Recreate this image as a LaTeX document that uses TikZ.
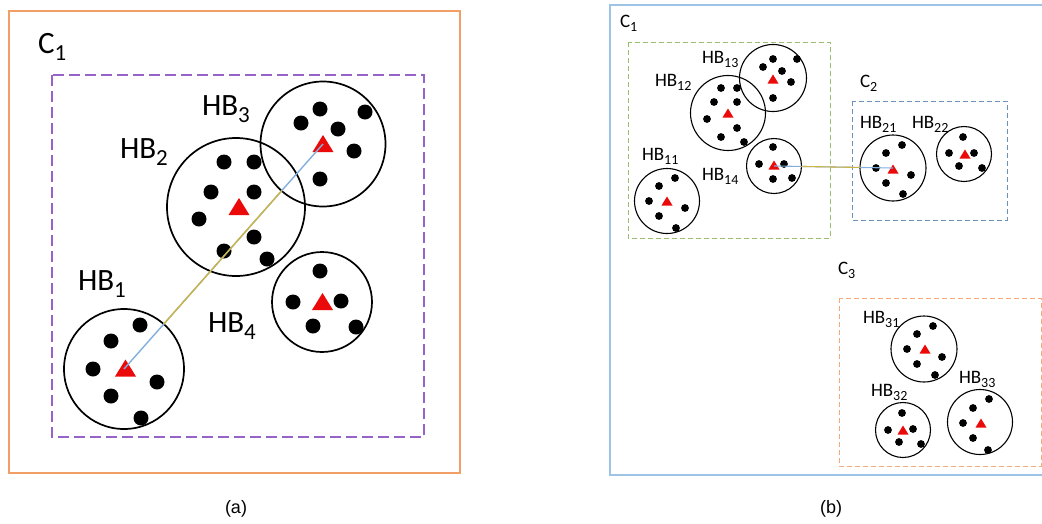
\documentclass[tikz,border=0pt]{standalone}
\usepackage{fontspec}
\setmainfont{Carlito}
\newfontfamily\capfont{Liberation Sans}
\usetikzlibrary{calc}
\definecolor{boxorange}{RGB}{241,158,103}
\definecolor{boxpurple}{RGB}{150,100,200}
\definecolor{boxblue}{RGB}{157,195,230}
\definecolor{boxgreen}{RGB}{155,190,110}
\definecolor{boxslate}{RGB}{110,145,185}
\definecolor{boxpeach}{RGB}{244,170,120}
\definecolor{lineyellow}{RGB}{205,180,70}
\definecolor{lineblue}{RGB}{130,175,220}
\definecolor{tred}{RGB}{235,10,10}
\newcommand\bigsub[2]{{\fontsize{31}{31}\selectfont #1\raisebox{-7pt}{\fontsize{23}{23}\selectfont #2}}}
\newcommand\smsub[2]{{\fontsize{19}{19}\selectfont #1\raisebox{-4pt}{\fontsize{14}{14}\selectfont #2}}}
\newcommand\trig[3]{\fill[tred] (#1) ++(-#2,{#3/2}) -- ++({2*#2},0) -- ++(-#2,-#3) -- cycle;}
\begin{document}
\begin{tikzpicture}[x=1pt,y=-1pt,
  lbl/.style={anchor=base west,inner sep=0pt,outer sep=0pt},
  bigring/.style={circle,draw=black,line width=1.7pt,inner sep=0pt,outer sep=0pt},
  smring/.style={circle,draw=black,line width=1.1pt,inner sep=0pt,outer sep=0pt},
  yline/.style={draw=lineyellow,line width=1.4pt},
  bline/.style={draw=lineblue,line width=1.4pt},
  bigdot/.style={fill=black},
  capt/.style={font=\capfont\fontsize{18}{18}\selectfont,inner sep=0pt}]
\useasboundingbox (0,0) rectangle (1042,523);
\clip (0,0) rectangle (1042,523);

% ---------- panel (a) ----------
\draw[boxorange,line width=1.5pt] (9,11) rectangle (460,473);
\draw[boxpurple,line width=1.5pt,dash pattern=on 11pt off 5pt] (52,75) rectangle (424,437);
\node[lbl] (ac1) at (38,53) {\bigsub{C}{1}};

\node[bigring,minimum size=120pt] (hb1) at (124,369) {};
\node[bigring,minimum size=138pt] (hb2) at (236,207) {};
\node[bigring,minimum size=125pt] (hb3) at (323,144) {};
\node[bigring,minimum size=100pt] (hb4) at (322,302) {};

\foreach \p in {(140,325),(111,341),(93,369),(157,382),(111,396),(141,418),
  (224,162),(254,162),(211,192),(254,192),(199,219),(254,237),(224,251),(267,259),
  (320,109),(365,112),(301,123),(338,129),(354,151),(320,179),
  (320,271),(293,302),(341,301),(313,326),(356,327)}
  \fill[bigdot] \p circle (7.5);

\coordinate (t1) at (125.5,368);
\coordinate (t2) at (239,206.5);
\coordinate (t3) at (323,143.5);
\coordinate (t4) at (322.5,301.5);
\trig{t1}{10.5}{17}
\trig{t2}{10.5}{17}
\trig{t3}{10.5}{17}
\trig{t4}{10.5}{17}

\draw[bline] (hb1.center) -- (hb3.center);
\draw[yline] (hb1) -- (hb3);

\node[lbl] (la1) at (78,290) {\bigsub{HB}{1}};
\node[lbl] (la2) at (120,158) {\bigsub{HB}{2}};
\node[lbl] (la3) at (202,115) {\bigsub{HB}{3}};
\node[lbl] (la4) at (208,332) {\bigsub{HB}{4}};

\node[capt] (capa) at (236,509) {(a)};

% ---------- panel (b) ----------
\draw[boxblue,line width=1.2pt] (610,5) rectangle (1060,475);
\draw[boxgreen,line width=1pt,dash pattern=on 5pt off 3pt] (628,42) rectangle (830,238);
\draw[boxslate,line width=1pt,dash pattern=on 5pt off 3pt] (852,101) rectangle (1007,220);
\draw[boxpeach,line width=1pt,dash pattern=on 5pt off 3pt] (839,298) rectangle (1041,466);

\node[lbl] (bc1) at (620,27) {\smsub{C}{1}};
\node[lbl] (bc2) at (860,87) {\smsub{C}{2}};
\node[lbl] (bc3) at (838,274) {\smsub{C}{3}};

\node[smring,minimum size=65pt] (hb11) at (667,201) {};
\node[smring,minimum size=75pt] (hb12) at (728,113) {};
\node[smring,minimum size=67pt] (hb13) at (773,78) {};
\node[smring,minimum size=55pt] (hb14) at (774,166) {};
\node[smring,minimum size=66pt] (hb21) at (893,168) {};
\node[smring,minimum size=55pt] (hb22) at (964,154) {};
\node[smring,minimum size=66pt] (hb31) at (924,349) {};
\node[smring,minimum size=55pt] (hb32) at (903,430) {};
\node[smring,minimum size=65pt] (hb33) at (980,422) {};

\foreach \p in {(675,178),(659,186),(649,201),(685,208),(659,216),(676,228),
  (721,88),(737,88),(714,102),(737,102),(707,119),(737,128),(721,137),(744,142),
  (773,59),(797,59),(763,67),(782,71),(791,82),(773,98),
  (773,147),(759,164),(784,164),(773,179),(792,178),
  (902,145),(886,153),(876,168),(911,175),(886,183),(903,194),
  (963,137),(949,153),(974,153),(959,166),(982,168),
  (933,326),(917,334),(907,349),(942,357),(917,364),(935,375),
  (902,413),(888,430),(913,429),(899,442),(921,444),
  (989,399),(973,408),(963,423),(973,438),(988,450)}
  \fill[bigdot] \p circle (3.9);

\coordinate (t11) at (667,201);
\coordinate (t12) at (728,113);
\coordinate (t13) at (773,79);
\coordinate (t14) at (774,165);
\coordinate (t21) at (893,169);
\coordinate (t22) at (965,154);
\coordinate (t31) at (925,349);
\coordinate (t32) at (903,430);
\coordinate (t33) at (981,423);
\foreach \t in {t11,t12,t13,t14,t21,t22,t31,t32,t33}
  {\trig{\t}{5.5}{9}}

\draw[bline,line width=1.1pt] (hb14.center) -- (hb21.center);
\draw[yline,line width=1.1pt] (hb14) -- (hb21);

\node[lbl] (lb11) at (642,160) {\smsub{HB}{11}};
\node[lbl] (lb12) at (655,86) {\smsub{HB}{12}};
\node[lbl] (lb13) at (702,63) {\smsub{HB}{13}};
\node[lbl] (lb14) at (702,180) {\smsub{HB}{14}};
\node[lbl] (lb21) at (860,128) {\smsub{HB}{21}};
\node[lbl] (lb22) at (912,128) {\smsub{HB}{22}};
\node[lbl] (lb31) at (863,323) {\smsub{HB}{31}};
\node[lbl] (lb32) at (871,396) {\smsub{HB}{32}};
\node[lbl] (lb33) at (959,383) {\smsub{HB}{33}};

\node[capt] (capb) at (831,509) {(b)};
\end{tikzpicture}
\end{document}
